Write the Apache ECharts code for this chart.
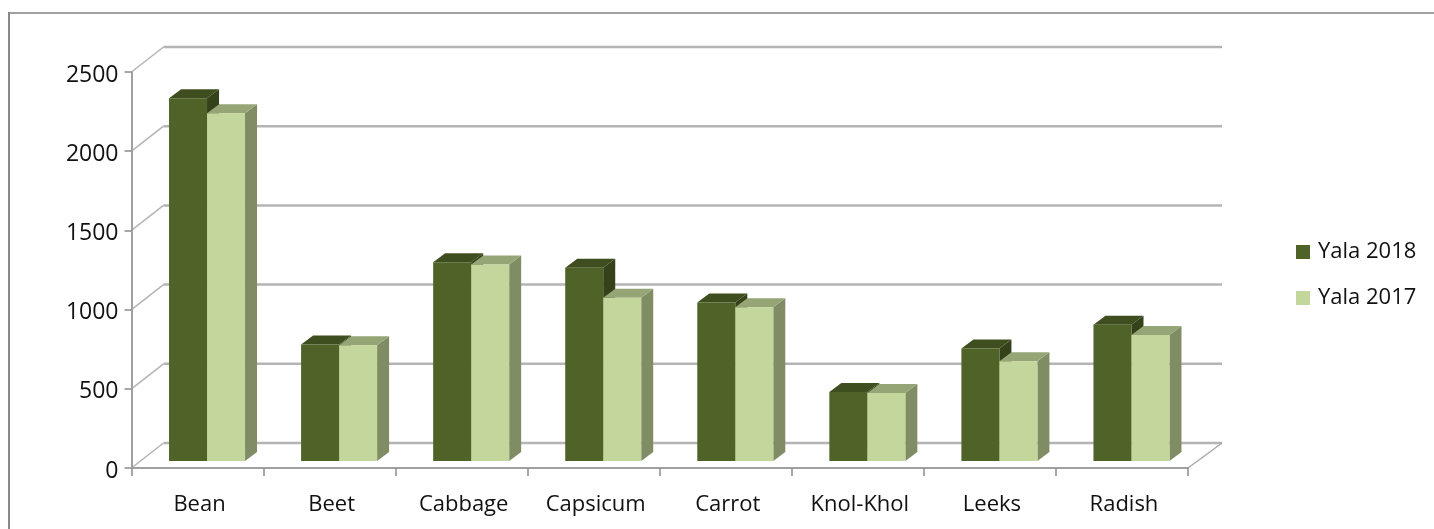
<!DOCTYPE html>
<html>
<head>
<meta charset="utf-8">
<style>html,body{margin:0;padding:0;background:#fff}</style>
<script src="https://cdn.jsdelivr.net/npm/echarts@6/dist/echarts.min.js"></script>
</head>
<body>
<div id="main" style="width:1434px;height:529px"></div>
<script>
var categories = ['Bean', 'Beet', 'Cabbage', 'Capsicum', 'Carrot', 'Knol-Khol', 'Leeks', 'Radish'];
var yala2018 = [2290, 735, 1255, 1220, 1000, 435, 710, 860];
var yala2017 = [2195, 730, 1240, 1030, 970, 430, 630, 795];
var yTicks = [0, 500, 1000, 1500, 2000, 2500];

var depthX = 32, depthY = 25;      // back wall offset
var barW = 38, barDX = 12, barDY = 9; // bar front width and depth
var shiftX = 9.5, shiftY = -7;     // bars stand inside the floor

function rows(values) {
    return values.map(function (v, i) { return [i, v]; });
}

function poly(points, fill) {
    return { type: 'polygon', shape: { points: points }, style: { fill: fill }, silent: true };
}

function barItem(side, front, top, right) {
    return function (params, api) {
        var p = api.coord([api.value(0), api.value(1)]);
        var base = api.coord([api.value(0), 0]);
        var x0 = p[0] + shiftX + (side === 0 ? -barW : 0);
        var x1 = x0 + barW;
        var y0 = p[1] + shiftY;
        var y1 = base[1] + shiftY;
        return {
            type: 'group',
            children: [
                poly([[x1, y0], [x1 + barDX, y0 - barDY], [x1 + barDX, y1 - barDY], [x1, y1]], right),
                poly([[x0, y0], [x0 + barDX, y0 - barDY], [x1 + barDX, y0 - barDY], [x1, y0]], top),
                poly([[x0, y0], [x1, y0], [x1, y1], [x0, y1]], front)
            ]
        };
    };
}

function wallItem(params, api) {
    var p = api.coord([0, api.value(0)]);
    var xs = api.coord([categories.length - 1, 0])[0] + api.size([1, 0])[0] / 2;
    var left = p[0] - api.size([1, 0])[0] / 2;
    var backX = left + depthX, backY = p[1] - depthY;
    var children = [{
        type: 'polyline',
        shape: { points: [[left, p[1]], [backX, backY]] },
        style: { stroke: '#b4b4b4', lineWidth: 1.5, fill: null }, silent: true
    }, {
        type: 'line',
        shape: { x1: backX, y1: backY, x2: xs + depthX + 2, y2: backY },
        style: { stroke: '#b4b4b4', lineWidth: 2.5 }, silent: true
    }];
    if (api.value(0) === 0) {
        children.push({
            type: 'line',
            shape: { x1: xs, y1: p[1], x2: xs + depthX + 2, y2: backY },
            style: { stroke: '#a8a8a8', lineWidth: 1.5 }, silent: true
        });
    }
    return { type: 'group', children: children };
}

var chartDom = document.getElementById('main');
var myChart = echarts.init(chartDom, null, { renderer: 'canvas' });
var font = 'Open Sans';
var option = {
    animation: false,
    backgroundColor: '#fff',
    textStyle: { fontFamily: font },
    graphic: [{
        type: 'line',
        shape: { x1: 9, y1: 13, x2: 1434, y2: 13 },
        style: { stroke: '#a0a0a0', lineWidth: 2 },
        silent: true, z: -10
    }, {
        type: 'line',
        shape: { x1: 9, y1: 12, x2: 9, y2: 529 },
        style: { stroke: '#888888', lineWidth: 2 },
        silent: true, z: -10
    }],
    legend: {
        orient: 'vertical',
        left: 1296,
        top: 241,
        padding: 0,
        itemWidth: 14,
        itemHeight: 14,
        itemGap: 24,
        icon: 'rect',
        data: ['Yala 2018', 'Yala 2017'],
        textStyle: { fontFamily: font, fontSize: 22, color: '#111', padding: [0, 0, 0, 3] }
    },
    grid: { left: 131.5, top: 72, width: 1056.5, height: 396 },
    xAxis: {
        type: 'category',
        data: categories,
        axisLine: { show: true, lineStyle: { color: '#a0a0a0', width: 2 } },
        axisTick: { show: true, length: 8, lineStyle: { color: '#8c8c8c', width: 1.5 } },
        axisLabel: { fontFamily: font, fontSize: 22, color: '#111', margin: 26, padding: [0, 0, 0, 4] },
        z: 1
    },
    yAxis: {
        type: 'value',
        min: 0,
        max: 2500,
        interval: 500,
        axisLine: { show: true, lineStyle: { color: '#a0a0a0', width: 2 } },
        axisTick: { show: true, length: 7, lineStyle: { color: '#8c8c8c', width: 1.5 } },
        axisLabel: {
            fontFamily: font, fontSize: 23, color: '#111', margin: 13,
            verticalAlign: 'top', lineHeight: 6,
            formatter: function (v) { return String(v); }
        },
        splitLine: { show: false }
    },
    series: [
        {
            name: 'walls',
            type: 'custom',
            silent: true,
            clip: false,
            z: 0,
            renderItem: wallItem,
            encode: { y: 0 },
            data: yTicks.map(function (t) { return [t]; })
        },
        {
            name: 'Yala 2018',
            type: 'custom',
            clip: false,
            z: 3,
            itemStyle: { color: '#4f6228' },
            encode: { x: 0, y: 1 },
            renderItem: barItem(0, '#4f6228', '#3f4e1f', '#344119'),
            data: rows(yala2018)
        },
        {
            name: 'Yala 2017',
            type: 'custom',
            clip: false,
            z: 4,
            itemStyle: { color: '#c3d69b' },
            encode: { x: 0, y: 1 },
            renderItem: barItem(1, '#c3d69b', '#96a576', '#7f8c64'),
            data: rows(yala2017)
        }
    ]
};
option && myChart.setOption(option);
</script>
</body>
</html>
